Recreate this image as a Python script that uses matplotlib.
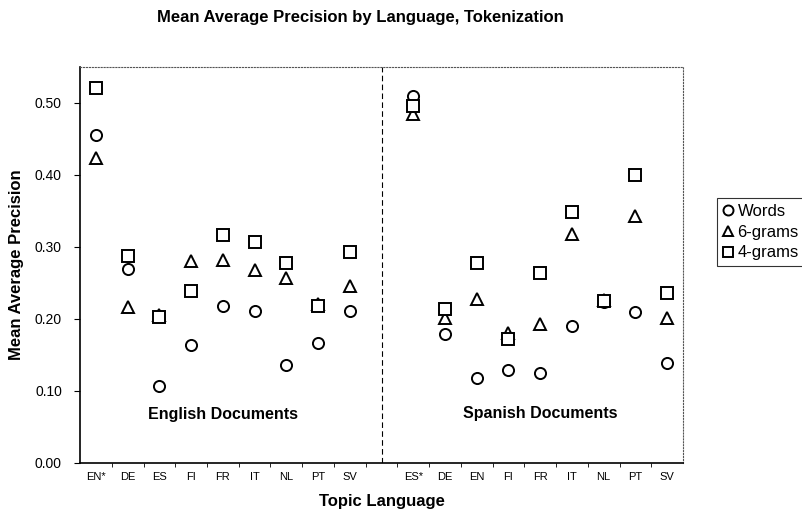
import numpy as np
import matplotlib
matplotlib.use("Agg")
import matplotlib.pyplot as plt
from matplotlib.ticker import FixedLocator, NullFormatter

plt.rcParams["font.family"] = ["Liberation Sans", "DejaVu Sans"]

# topic languages, English docs then Spanish docs
en_langs = ["EN*", "DE", "ES", "FI", "FR", "IT", "NL", "PT", "SV"]
es_langs = ["ES*", "DE", "EN", "FI", "FR", "IT", "NL", "PT", "SV"]

# mean average precision, English documents
en_words = [0.455, 0.269, 0.107, 0.164, 0.218, 0.211, 0.136, 0.166, 0.211]
en_6grams = [0.424, 0.216, 0.205, 0.281, 0.282, 0.268, 0.257, 0.221, 0.246]
en_4grams = [0.521, 0.287, 0.203, 0.238, 0.316, 0.307, 0.278, 0.218, 0.293]

# mean average precision, Spanish documents
es_words = [0.510, 0.179, 0.118, 0.129, 0.125, 0.190, 0.224, 0.210, 0.138]
es_6grams = [0.485, 0.201, 0.227, 0.180, 0.193, 0.318, 0.226, 0.343, 0.201]
es_4grams = [0.496, 0.214, 0.277, 0.172, 0.264, 0.348, 0.225, 0.400, 0.236]

labels = en_langs + es_langs
x = np.r_[np.arange(len(en_langs)), np.arange(len(es_langs)) + len(en_langs) + 1]
words = en_words + es_words
six = en_6grams + es_6grams
four = en_4grams + es_4grams

fig = plt.figure(figsize=(8.02, 5.11), dpi=100)
ax = fig.add_axes([0.0998, 0.0945, 0.7518, 0.7745])

mk = dict(linestyle="none", markerfacecolor="white", markeredgecolor="black",
          markeredgewidth=1.4, markersize=8)
ax.plot(x, words, marker="o", label="Words", **mk)
ax.plot(x, six, marker="^", label="6-grams", **mk)
ax.plot(x, four, marker="s", label="4-grams", **mk)

# divider between the two document sets
ax.axvline(len(en_langs), color="black", linestyle=(0, (5, 3)), linewidth=0.8)

ax.text(4, 0.067, "English Documents", ha="center", va="center", fontsize=11.5, fontweight="bold")
ax.text(14, 0.069, "Spanish Documents", ha="center", va="center", fontsize=11.5, fontweight="bold")

ax.set_xlim(-0.5, x[-1] + 0.5)
ax.set_ylim(0, 0.55)
ax.set_yticks(np.arange(0, 0.51, 0.1))
ax.set_yticklabels([f"{v:.2f}" for v in np.arange(0, 0.51, 0.1)], fontsize=10)
ax.set_xticks(x)
ax.set_xticklabels(labels, fontsize=8)
ax.xaxis.set_minor_locator(FixedLocator(np.arange(0.5, x[-1], 1.0)))
ax.xaxis.set_minor_formatter(NullFormatter())
ax.tick_params(axis="x", which="major", length=0, pad=7)
ax.tick_params(axis="x", which="minor", length=3, direction="out")
ax.tick_params(axis="y", length=4, direction="out", pad=9)

for s in ("top", "right"):
    ax.spines[s].set_linestyle(":")
    ax.spines[s].set_color("#555555")
    ax.spines[s].set_linewidth(0.8)
for s in ("left", "bottom"):
    ax.spines[s].set_linewidth(1.2)

ax.set_xlabel("Topic Language", fontsize=12, fontweight="bold")
ax.xaxis.set_label_coords(0.5, -0.099)
ax.xaxis.label.set_va("center")
ax.set_ylabel("Mean Average Precision", fontsize=12, fontweight="bold")
ax.yaxis.set_label_coords(-0.105, 0.5)
ax.yaxis.label.set_va("center")
fig.text(0.449, 0.965, "Mean Average Precision by Language, Tokenization",
         ha="center", va="center", fontsize=12, fontweight="bold")

leg = ax.legend(loc="upper left", bbox_to_anchor=(1.056, 0.669), fontsize=12,
                frameon=True, fancybox=False, borderpad=0.35, labelspacing=0.35,
                handlelength=0.7, handletextpad=0.2, borderaxespad=0, markerscale=0.9)
leg.get_frame().set_edgecolor("black")
leg.get_frame().set_linewidth(0.8)

fig.savefig("out.png", dpi=100)
